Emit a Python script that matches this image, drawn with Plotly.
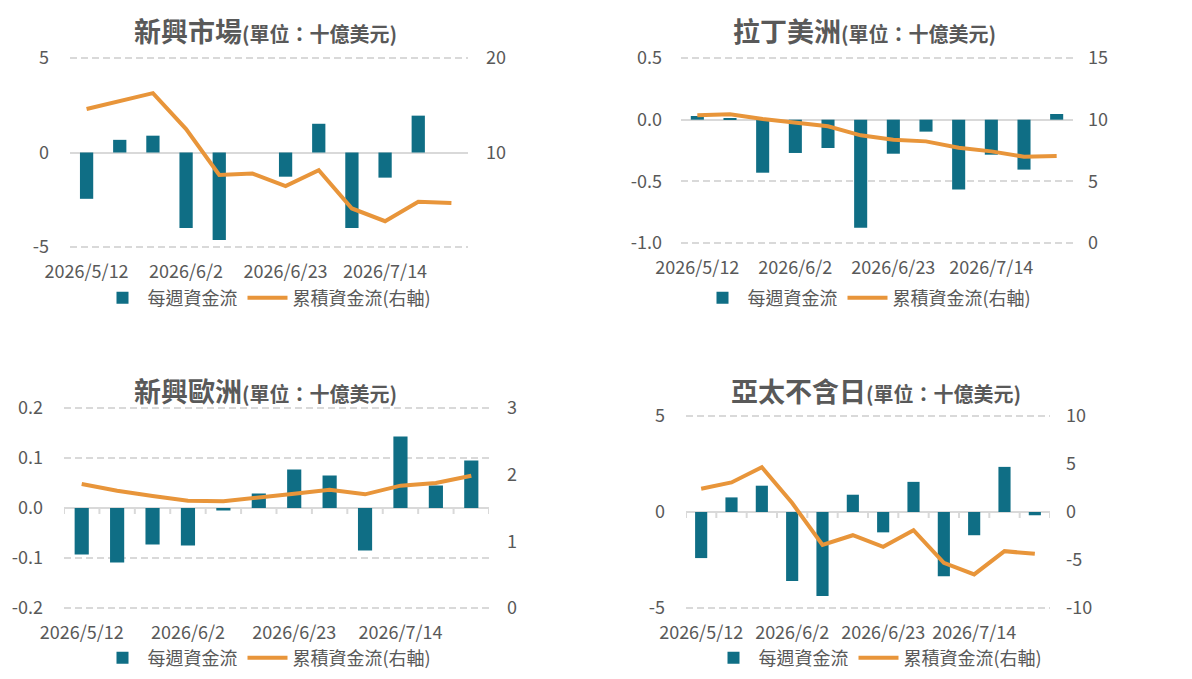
import plotly.graph_objects as go

# ---------------- data ----------------
dates = ["2026/5/12", "2026/5/19", "2026/5/26", "2026/6/2", "2026/6/9", "2026/6/16",
         "2026/6/23", "2026/6/30", "2026/7/7", "2026/7/14", "2026/7/21", "2026/7/28"]
date_ticks = ["2026/5/12", "2026/6/2", "2026/6/23", "2026/7/14"]

em_weekly = [-2.45, 0.67, 0.89, -4.0, -4.63, 0.0, -1.28, 1.52, -3.99, -1.33, 1.95, 0.0]
em_cum = [14.61, 15.43, 16.28, 12.48, 7.62, 7.77, 6.45, 8.12, 4.08, 2.73, 4.79, 4.65]

latam_weekly = [0.03, 0.01, -0.43, -0.27, -0.23, -0.876, -0.276, -0.097, -0.567, -0.284, -0.405, 0.046]
latam_cum = [10.35, 10.43, 10.05, 9.73, 9.46, 8.73, 8.38, 8.24, 7.73, 7.43, 7.0, 7.05]

eeu_weekly = [-0.093, -0.109, -0.073, -0.075, -0.005, 0.029, 0.077, 0.065, -0.085, 0.143, 0.045, 0.095]
eeu_cum = [1.86, 1.76, 1.68, 1.61, 1.60, 1.65, 1.715, 1.775, 1.705, 1.835, 1.875, 1.985]

apxj_weekly = [-2.40, 0.76, 1.37, -3.6, -4.38, 0.90, -1.06, 1.57, -3.34, -1.21, 2.35, -0.17]
apxj_cum = [2.42, 3.08, 4.67, 0.93, -3.43, -2.42, -3.63, -1.90, -5.29, -6.5, -4.08, -4.36]

titles = ["新興市場", "拉丁美洲", "新興歐洲", "亞太不含日"]
unit_text = "(單位：十億美元)"
bar_name = "每週資金流"
line_name = "累積資金流(右軸)"

em_left_vals = [-5, 0, 5]
em_left_text = ["-5", "0", "5"]
em_right_vals = [10, 20]
em_right_text = ["10", "20"]
latam_left_vals = [-1.0, -0.5, 0.0, 0.5]
latam_left_text = ["-1.0", "-0.5", "0.0", "0.5"]
latam_right_vals = [0, 5, 10, 15]
latam_right_text = ["0", "5", "10", "15"]
eeu_left_vals = [-0.2, -0.1, 0.0, 0.1, 0.2]
eeu_left_text = ["-0.2", "-0.1", "0.0", "0.1", "0.2"]
eeu_right_vals = [0, 1, 2, 3]
eeu_right_text = ["0", "1", "2", "3"]
apxj_left_vals = [-5, 0, 5]
apxj_left_text = ["-5", "0", "5"]
apxj_right_vals = [-10, -5, 0, 5, 10]
apxj_right_text = ["-10", "-5", "0", "5", "10"]

# ---------------- style ----------------
W, H = 1192, 679
BAR_C = "#0F6E85"
LINE_C = "#E8953A"
TXT_C = "#595959"
GRID_C = "#D9D9D9"
FONT = "Noto Sans CJK TC, sans-serif"
TICK_SIZE = 18
EDGE = 2  # px of headroom so edge gridlines are kept


def px_x(a, b):
    return [a / W, b / W]


def px_y(top, bottom):
    return [1 - (bottom + EDGE) / H, 1 - (top - EDGE) / H]


def pad(r, top, bottom):
    frac = EDGE / (bottom - top)
    span = r[1] - r[0]
    return [r[0] - span * frac, r[1] + span * frac]


panels = [
    dict(weekly=em_weekly, cum=em_cum, box=(70, 468, 58, 247),
         lr=[-5, 5], lv=em_left_vals, lt=em_left_text,
         rr=[0, 20], rv=em_right_vals, rt=em_right_text,
         title_xy=(265, 31), legend_xy=(267, 298), ticks=False, lstand=20, rstand=17),
    dict(weekly=latam_weekly, cum=latam_cum, box=(681, 1073, 58, 243),
         lr=[-1.0, 0.5], lv=latam_left_vals, lt=latam_left_text,
         rr=[0, 15], rv=latam_right_vals, rt=latam_right_text,
         title_xy=(864, 31), legend_xy=(867, 298), ticks=False, lstand=18, rstand=14),
    dict(weekly=eeu_weekly, cum=eeu_cum, box=(64, 489, 408, 608),
         lr=[-0.2, 0.2], lv=eeu_left_vals, lt=eeu_left_text,
         rr=[0, 3], rv=eeu_right_vals, rt=eeu_right_text,
         title_xy=(265, 391), legend_xy=(267, 658), ticks=True, lstand=20, rstand=17),
    dict(weekly=apxj_weekly, cum=apxj_cum, box=(686, 1050, 416, 608),
         lr=[-5, 5], lv=apxj_left_vals, lt=apxj_left_text,
         rr=[-10, 10], rv=apxj_right_vals, rt=apxj_right_text,
         title_xy=(876, 391), legend_xy=(878, 658), ticks=True, lstand=20, rstand=15),
]

fig = go.Figure()
layout = dict(
    width=W, height=H, margin=dict(l=0, r=0, t=0, b=0, autoexpand=False),
    paper_bgcolor="white", plot_bgcolor="white",
    bargap=0.6, showlegend=True,
    font=dict(family=FONT, size=TICK_SIZE, color=TXT_C),
)
annotations = []
shapes = []

for i, p in enumerate(panels):
    k = i + 1
    xa = "x" if k == 1 else f"x{k}"
    ya = "y" if k == 1 else f"y{k}"
    yr = f"y{k + 4}"
    leg = "legend" if k == 1 else f"legend{k}"
    x0, x1, top, bottom = p["box"]

    fig.add_trace(go.Bar(x=dates, y=p["weekly"], name=bar_name, marker_color=BAR_C,
                         marker_line_width=0, xaxis=xa, yaxis=ya, legend=leg))
    fig.add_trace(go.Scatter(x=dates, y=p["cum"], name=line_name, mode="lines",
                             line=dict(color=LINE_C, width=4), xaxis=xa, yaxis=yr,
                             legend=leg))

    xkey = "xaxis" if k == 1 else f"xaxis{k}"
    ykey = "yaxis" if k == 1 else f"yaxis{k}"
    yrkey = f"yaxis{k + 4}"

    layout[xkey] = dict(domain=px_x(x0, x1), anchor=ya, type="category",
                        range=[-0.5, len(dates) - 0.5],
                        tickmode="array", tickvals=date_ticks, ticktext=date_ticks,
                        tickangle=0,
                        showgrid=False, showline=False, ticks="", zeroline=False,
                        ticklabelstandoff=int(12 - EDGE),
                        tickfont=dict(family=FONT, size=TICK_SIZE, color=TXT_C))
    layout[ykey] = dict(domain=px_y(top, bottom), anchor=xa, range=pad(p["lr"], top, bottom),
                        tickmode="array", tickvals=p["lv"], ticktext=p["lt"],
                        showgrid=True, gridcolor=GRID_C, gridwidth=2, griddash="7px,4px",
                        zeroline=True, zerolinecolor=GRID_C, zerolinewidth=2,
                        showline=False, ticks="", ticklabelstandoff=int(p["lstand"]),
                        tickfont=dict(family=FONT, size=TICK_SIZE, color=TXT_C))
    layout[yrkey] = dict(domain=px_y(top, bottom), anchor=xa, overlaying=ya, side="right",
                         range=pad(p["rr"], top, bottom), tickmode="array",
                         tickvals=p["rv"], ticktext=p["rt"],
                         showgrid=False, zeroline=False, showline=False, ticks="",
                         ticklabelstandoff=int(p["rstand"]),
                         tickfont=dict(family=FONT, size=TICK_SIZE, color=TXT_C))

    lx, ly = p["legend_xy"]
    layout[leg] = dict(orientation="h", x=lx / W, y=1 - ly / H, xanchor="center",
                       yanchor="middle", itemwidth=40, bgcolor="rgba(0,0,0,0)",
                       font=dict(family=FONT, size=18, color=TXT_C))

    tx, ty = p["title_xy"]
    annotations.append(dict(
        xref="paper", yref="paper", x=tx / W, y=1 - ty / H, xanchor="center", yanchor="middle",
        showarrow=False,
        text=f"<b><span style='font-size:27px'>{titles[i]}</span>"
             f"<span style='font-size:20px'>{unit_text}</span></b>",
        font=dict(family=FONT, color=TXT_C)))

    if p["ticks"]:
        for j in range(len(dates) + 1):
            shapes.append(dict(type="line", xref=xa, yref=ya, x0=j - 0.5, x1=j - 0.5,
                               ysizemode="pixel", yanchor=0, y0=0, y1=-6,
                               line=dict(color=GRID_C, width=2)))

layout["annotations"] = annotations
layout["shapes"] = shapes
fig.update_layout(**layout)
fig.write_html("out.html", config={"displayModeBar": False},
               post_script="document.body.style.margin='0px';document.body.style.overflow='hidden';")
